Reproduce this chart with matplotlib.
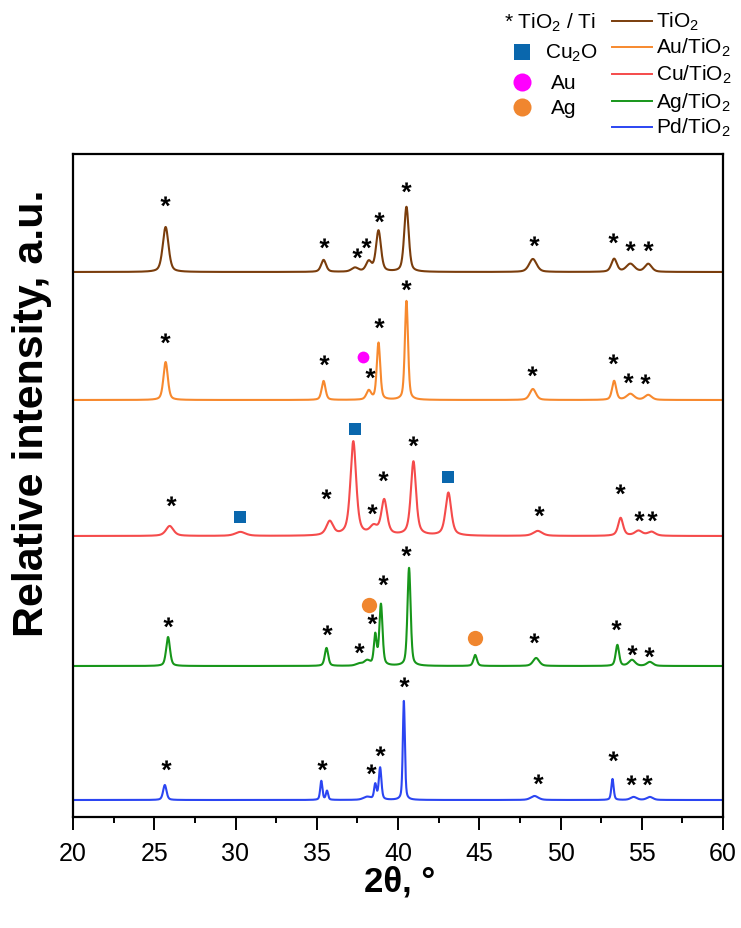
import numpy as np
import matplotlib
matplotlib.use("Agg")
import matplotlib.pyplot as plt
from matplotlib.path import Path
from matplotlib.textpath import TextPath
from matplotlib.font_manager import FontProperties
from matplotlib.ticker import MultipleLocator

plt.rcParams["font.family"] = ["Liberation Sans", "DejaVu Sans"]
plt.rcParams["mathtext.default"] = "regular"

# ---------------------------------------------------------------- data
x_min, x_max = 20, 60
x_ticks = [20, 25, 30, 35, 40, 45, 50, 55, 60]

sample_names = ["TiO$_2$", "Au/TiO$_2$", "Cu/TiO$_2$", "Ag/TiO$_2$", "Pd/TiO$_2$"]
sample_colors = ["#7a3d0c", "#f7892e", "#f54b4b", "#17961a", "#2b45f2"]
baselines = [545, 417, 281, 151, 17]
profile_mix = [0.45, 0.45, 0.6, 0.45, 0.45]

# reflections of each pattern: 2-theta position, height, FWHM
tio2_pos = [25.70, 35.42, 37.35, 38.20, 38.80, 40.52, 48.30, 53.30, 54.30, 55.40]
tio2_h = [45, 12, 4, 10, 41, 65, 13, 13, 8, 8]
tio2_w = [0.42, 0.36, 0.50, 0.40, 0.36, 0.33, 0.55, 0.40, 0.60, 0.50]

au_pos = [25.70, 35.42, 38.20, 38.80, 40.52, 48.30, 53.30, 54.30, 55.40]
au_h = [38, 19, 9, 57, 99, 11, 19, 6, 5]
au_w = [0.32, 0.28, 0.34, 0.25, 0.23, 0.45, 0.30, 0.55, 0.50]

cu_pos = [25.95, 30.30, 35.80, 37.25, 38.50, 39.15, 40.95, 43.10, 48.60, 53.70, 54.80, 55.60]
cu_h = [10, 4, 14, 94, 8, 35, 74, 43, 5, 18, 5, 4]
cu_w = [0.55, 0.75, 0.50, 0.42, 0.55, 0.42, 0.38, 0.42, 0.65, 0.36, 0.55, 0.55]

ag_pos = [25.85, 35.60, 37.60, 38.10, 38.60, 38.95, 40.68, 44.75, 48.50, 53.50, 54.40, 55.50]
ag_h = [29, 18, 2, 5, 30, 61, 98, 11, 8, 21, 6, 4]
ag_w = [0.28, 0.25, 0.45, 0.45, 0.20, 0.23, 0.23, 0.25, 0.45, 0.25, 0.45, 0.45]

pd_pos = [25.65, 35.28, 35.63, 38.10, 38.60, 38.90, 40.36, 48.40, 53.20, 54.50, 55.50]
pd_h = [15, 19, 9, 3, 15, 32, 99, 4, 21, 3, 3]
pd_w = [0.25, 0.16, 0.16, 0.55, 0.17, 0.19, 0.15, 0.55, 0.17, 0.45, 0.45]

peak_pos = [tio2_pos, au_pos, cu_pos, ag_pos, pd_pos]
peak_h = [tio2_h, au_h, cu_h, ag_h, pd_h]
peak_w = [tio2_w, au_w, cu_w, ag_w, pd_w]

# phase markers: 2-theta, height above the pattern's baseline
star_x = [
    [25.65, 35.42, 37.45, 38.06, 38.80, 40.52, 48.39, 53.24, 54.29, 55.40],
    [25.65, 35.42, 38.25, 38.80, 40.52, 48.26, 53.24, 54.16, 55.20],
    [26.02, 35.55, 38.37, 39.10, 40.90, 48.69, 53.67, 54.84, 55.64],
    [25.84, 35.60, 37.63, 38.37, 39.05, 40.52, 48.39, 53.43, 54.41, 55.45],
    [25.71, 35.34, 38.31, 38.92, 40.34, 48.63, 53.24, 54.35, 55.33],
]
star_y = [
    [67, 25, 15, 25, 51, 81, 27, 30, 22, 22],
    [58, 36, 23, 73, 111, 25, 37, 18, 17],
    [31, 38, 23, 56, 91, 21, 43, 16, 16],
    [40, 32, 14, 43, 82, 111, 24, 37, 12, 10],
    [31, 31, 27, 45, 114, 17, 40, 16, 16],
]

cu2o_x = [30.26, 37.33, 43.10]
cu2o_y = [19, 107, 59]
au_x = [37.82]
au_y = [43]
ag_x = [38.19, 44.76]
ag_y = [61, 28]

phase_labels = ["* TiO$_2$ / Ti", "Cu$_2$O", "Au", "Ag"]
cu2o_color = "#0a67ad"
au_color = "#ff00ff"
ag_color = "#f0862f"

# ---------------------------------------------------------------- helpers
def pattern(x, pos, h, w, eta):
    y = np.zeros_like(x)
    for p, a, f in zip(pos, h, w):
        d = (x - p) / f
        y += a * (eta / (1 + 4 * d ** 2) + (1 - eta) * np.exp(-4 * np.log(2) * d ** 2))
    return y


tp = TextPath((0, 0), "*", size=1, prop=FontProperties(family="Liberation Sans", weight="bold"))
v = tp.vertices.copy()
v -= (v.min(axis=0) + v.max(axis=0)) / 2
star_marker = Path(v, tp.codes)

# ---------------------------------------------------------------- figure
W, H = 741, 929
fig = plt.figure(figsize=(W / 100, H / 100), dpi=100)
ax = fig.add_axes([73 / W, 1 - 818 / H, 650 / W, 663 / H])

two_theta = np.linspace(x_min, x_max, 4001)
for i in range(len(sample_names)):
    y = baselines[i] + pattern(two_theta, peak_pos[i], peak_h[i], peak_w[i], profile_mix[i])
    ax.plot(two_theta, y, color=sample_colors[i], lw=1.5, zorder=2)
    ax.plot(star_x[i], np.array(star_y[i]) + baselines[i], ls="none",
            marker=star_marker, ms=13, color="black", mew=0, zorder=3)

ax.plot(cu2o_x, np.array(cu2o_y) + baselines[2], ls="none", marker="s",
        ms=8.5, color=cu2o_color, mew=0, zorder=3)
ax.plot(au_x, np.array(au_y) + baselines[1], ls="none", marker="o",
        ms=8.5, color=au_color, mew=0, zorder=3)
ax.plot(ag_x, np.array(ag_y) + baselines[3], ls="none", marker="o",
        ms=11, color=ag_color, mew=0, zorder=3)

ax.set_xlim(x_min, x_max)
ax.set_ylim(0, 663)
ax.set_xticks(x_ticks)
ax.xaxis.set_minor_locator(MultipleLocator(2.5))
ax.tick_params(axis="x", which="major", direction="out", length=9, width=1.4,
               labelsize=18, pad=8)
ax.tick_params(axis="x", which="minor", direction="out", length=4.5, width=1.4)
# stacked-panel boundaries shown as short marks on the side spines
ax.set_yticks([132.6, 265.2, 397.8, 530.4])
ax.tick_params(axis="y", which="major", direction="inout", length=2, width=1.2,
               left=True, right=True, labelleft=False)
for s in ax.spines.values():
    s.set_linewidth(1.6)

fig.text(400 / W, 1 - 882 / H, "2θ, °", ha="center", va="center",
         fontsize=25, fontweight="bold")
fig.text(32 / W, 1 - 413 / H, "Relative intensity, a.u.", ha="center", va="center",
         rotation=90, fontsize=31, fontweight="bold")

# ---------------------------------------------------------------- key
lg = fig.add_axes([0, 0, 1, 1])
lg.set_xlim(0, W)
lg.set_ylim(H, 0)
lg.axis("off")
lg.text(504, 23, phase_labels[0], ha="left", va="center", fontsize=15)
lg.plot([522], [53], ls="none", marker="s", ms=11, color=cu2o_color, mew=0)
lg.text(545, 53, phase_labels[1], ha="left", va="center", fontsize=15)
lg.plot([522], [83], ls="none", marker="o", ms=13, color=au_color, mew=0)
lg.text(551, 83, phase_labels[2], ha="left", va="center", fontsize=15)
lg.plot([522], [108], ls="none", marker="o", ms=13, color=ag_color, mew=0)
lg.text(551, 108, phase_labels[3], ha="left", va="center", fontsize=15)

key_y = [22, 48, 75, 102, 128]
for name, col, ky in zip(sample_names, sample_colors, key_y):
    lg.plot([612, 652], [ky, ky], color=col, lw=1.4)
    lg.text(656, ky, name, ha="left", va="center", fontsize=15)

fig.savefig("out.png", dpi=100)
